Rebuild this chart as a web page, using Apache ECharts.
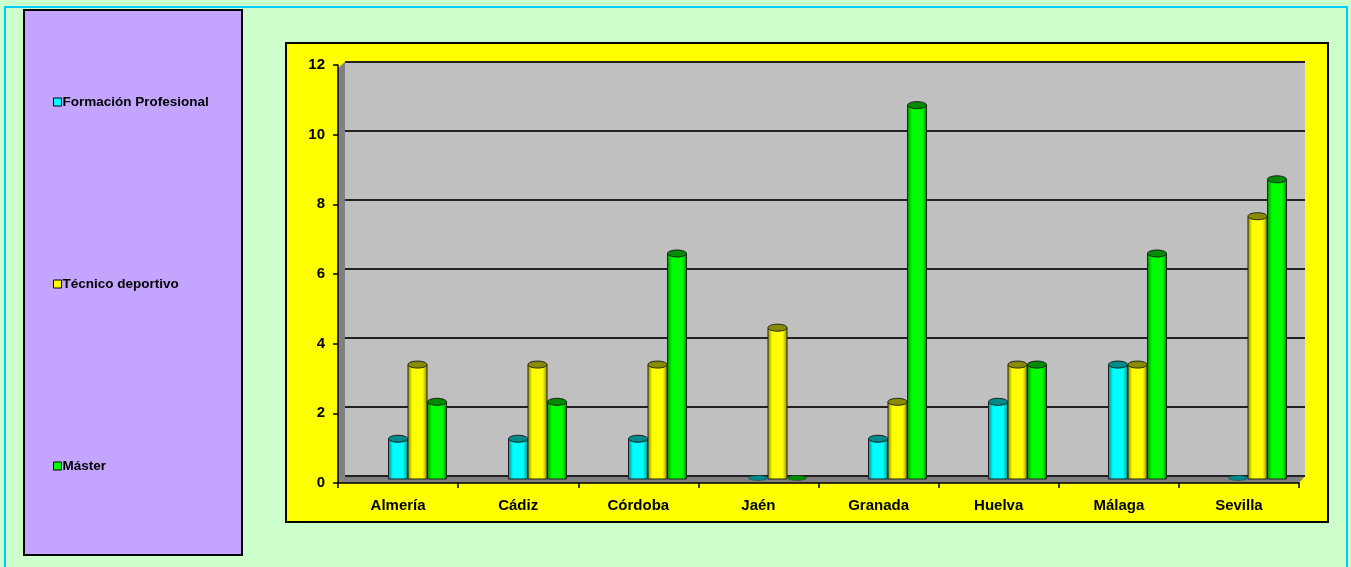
<!DOCTYPE html>
<html>
<head>
<meta charset="utf-8">
<script src="https://cdn.jsdelivr.net/npm/echarts@6/dist/echarts.min.js"></script>
<style>
  html, body { margin: 0; padding: 0; background: #ccffcc; }
  #chart { width: 1351px; height: 567px; }
</style>
</head>
<body>
<div id="chart"></div>
<script>
// provinces on the x axis
const provincias = ['Almería', 'Cádiz', 'Córdoba', 'Jaén', 'Granada', 'Huelva', 'Málaga', 'Sevilla'];
// percentages per study type
const formacionProfesional = [1.08, 1.08, 1.08, 0, 1.08, 2.15, 3.23, 0];
const tecnicoDeportivo = [3.23, 3.23, 3.23, 4.30, 2.15, 3.23, 3.23, 7.53];
const master = [2.15, 2.15, 6.45, 0, 10.75, 3.23, 6.45, 8.60];
const yTicks = [0, 2, 4, 6, 8, 10, 12];

const seriesNames = ['Formación Profesional', 'Técnico deportivo', 'Máster'];
const colors = ['#00ffff', '#ffff00', '#00ff00'];
const darks = ['#008b8b', '#8b8b00', '#008b00'];
const offsets = [-7, 12.5, 32];

let chart = echarts.init(document.getElementById('chart'));

function cylinder(idx) {
    return function (params, api) {
        const cat = api.value(0);
        const top = api.coord([cat, api.value(1)]);
        const base = api.coord([cat, 0]);
        const w = 19;
        const cx = top[0] + offsets[idx];
        const x0 = cx - w / 2;
        const ry = 3.5;
        const grad = new echarts.graphic.LinearGradient(0, 0, 1, 0, [
            { offset: 0, color: darks[idx] },
            { offset: 0.25, color: colors[idx] },
            { offset: 0.75, color: colors[idx] },
            { offset: 1, color: darks[idx] }
        ]);
        const h = base[1] - top[1] + 3;
        if (api.value(1) <= 0) {
            return {
                type: 'ellipse',
                shape: { cx: cx, cy: base[1] + 2, rx: w / 2, ry: 2.5 },
                style: { fill: darks[idx], stroke: '#333', lineWidth: 0.5 }
            };
        }
        return {
            type: 'group',
            children: [
                {
                    type: 'rect',
                    shape: { x: x0, y: top[1], width: w, height: h },
                    style: { fill: grad, stroke: '#222', lineWidth: 1 }
                },
                {
                    type: 'ellipse',
                    shape: { cx: cx, cy: top[1], rx: w / 2, ry: ry },
                    style: { fill: darks[idx], stroke: '#222', lineWidth: 1 }
                }
            ]
        };
    };
}

const allData = [formacionProfesional, tecnicoDeportivo, master];
const labelFont = { fontFamily: 'Liberation Sans', fontWeight: 'bold', fontSize: 15, color: '#000' };

let option = {
    animation: false,
    backgroundColor: '#ccffcc',
    graphic: [
        { type: 'rect', z: -10, shape: { x: 5, y: 7, width: 1342, height: 570 },
          style: { fill: '#ccffcc', stroke: '#00ccff', lineWidth: 2 } },
        { type: 'rect', z: -9, shape: { x: 24, y: 10, width: 218, height: 545 },
          style: { fill: '#c3a5ff', stroke: '#000', lineWidth: 2 } },
        { type: 'rect', z: -9, shape: { x: 286, y: 43, width: 1042, height: 479 },
          style: { fill: '#ffff00', stroke: '#000', lineWidth: 2 } },
        // left wall and floor shading of the 3D box
        { type: 'polygon', z: -8, shape: { points: [[338, 68], [345, 62], [345, 476], [338, 483]] },
          style: { fill: '#808080' } },
        { type: 'polygon', z: -8, shape: { points: [[338, 483], [345, 476], [1305, 476], [1299, 483]] },
          style: { fill: '#808080' } }
    ],
    legend: {
        orient: 'vertical',
        left: 48,
        top: 90,
        itemGap: 168,
        itemWidth: 8,
        itemHeight: 8,
        icon: 'rect',
        selectedMode: false,
        textStyle: { fontFamily: 'Liberation Sans', fontWeight: 'bold', fontSize: 13.5, color: '#000', padding: [0, 0, 0, -4] },
        itemStyle: { borderColor: '#000', borderWidth: 1 },
        data: seriesNames
    },
    grid: [
        // back wall of the box: gridlines and cylinders
        { left: 345, right: 46, top: 62, bottom: 567 - 476, show: true, backgroundColor: '#c0c0c0', borderWidth: 0 },
        // front edge: axis lines, ticks and labels
        { left: 338, right: 52, top: 65, bottom: 567 - 483, show: false }
    ],
    xAxis: [
        { type: 'category', gridIndex: 0, data: provincias, axisLine: { show: false }, axisTick: { show: false }, axisLabel: { show: false } },
        {
            type: 'category', gridIndex: 1, data: provincias,
            axisLine: { lineStyle: { color: '#000', width: 1.5 } },
            axisTick: { show: true, length: 5, lineStyle: { color: '#000', width: 1.5 } },
            axisLabel: Object.assign({ margin: 15 }, labelFont)
        }
    ],
    yAxis: [
        {
            type: 'value', gridIndex: 0, min: 0, max: 12, interval: 2,
            axisLine: { show: false }, axisTick: { show: false }, axisLabel: { show: false },
            splitLine: { lineStyle: { color: '#222', width: 2 } }
        },
        {
            type: 'value', gridIndex: 1, min: 0, max: 12, interval: 2,
            axisLine: { show: true, lineStyle: { color: '#000', width: 1.5 } },
            axisTick: { show: true, length: 5, lineStyle: { color: '#000', width: 1.5 } },
            axisLabel: Object.assign({ margin: 13,
                formatter: function (v) { return yTicks.indexOf(v) >= 0 ? String(v) : ''; } }, labelFont),
            splitLine: { show: false }
        }
    ],
    series: seriesNames.map(function (name, i) {
        return {
            name: name,
            type: 'custom',
            xAxisIndex: 0,
            yAxisIndex: 0,
            itemStyle: { color: colors[i] },
            renderItem: cylinder(i),
            encode: { x: 0, y: 1 },
            data: allData[i].map(function (v, j) { return [j, v]; })
        };
    })
};

chart.setOption(option, true);
</script>
</body>
</html>
